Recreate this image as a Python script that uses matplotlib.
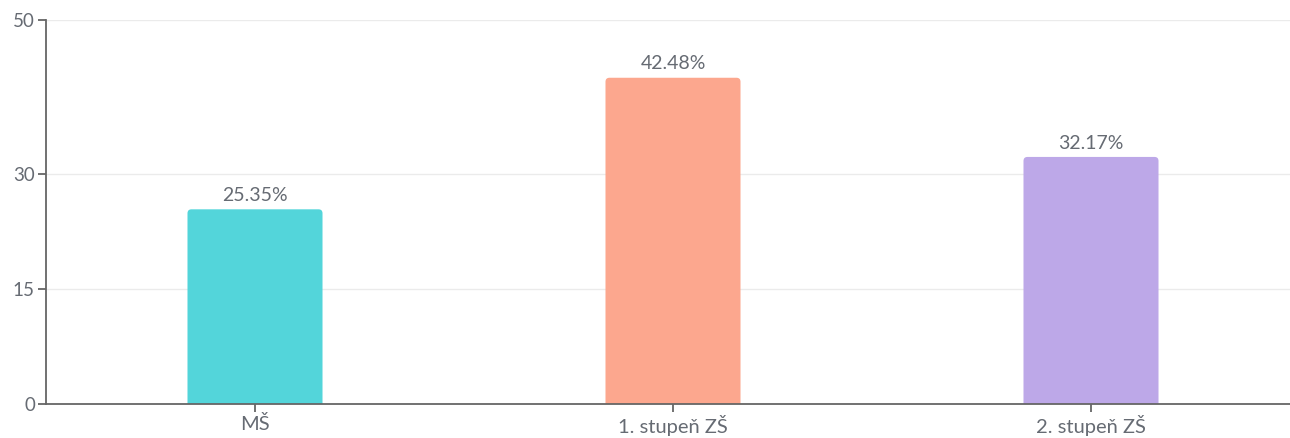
import numpy as np
import matplotlib.pyplot as plt
from matplotlib.patches import FancyBboxPatch

plt.rcParams['font.family'] = ['Lato', 'DejaVu Sans']

categories = ['MŠ', '1. stupeň ZŠ', '2. stupeň ZŠ']
values = [25.35, 42.48, 32.17]
colors = ['#53d5da', '#fca78e', '#bda8e8']
yticks = [0, 15, 30, 50]

fig = plt.figure(figsize=(12.9, 4.38), dpi=100)
ax = fig.add_axes([46/1290, 34/438, 1254/1290, 384/438])

x = np.arange(len(categories))
bars = ax.bar(x, values, width=0.323, color=colors, alpha=0)
ax.set_xlim(-0.5, 2.5)
ax.set_ylim(0, 50)

# rounded tops
px_x = 1254 / 3.0
px_y = 384 / 50.0
r = 4 / px_x
for b, c in zip(bars, colors):
    p = FancyBboxPatch((b.get_x(), -2), b.get_width(), b.get_height() + 2,
                       boxstyle='round,pad=0,rounding_size=%f' % r,
                       mutation_aspect=(4 / px_y) / r,
                       fc=c, ec='none', zorder=2)
    ax.add_patch(p)
    ax.text(b.get_x() + b.get_width() / 2, b.get_height() + 0.7,
            '%.2f%%' % b.get_height(), ha='center', va='bottom',
            fontsize=14, color='#666b73')

ax.set_xticks(x)
ax.set_xticklabels(categories, fontsize=14.5)
ax.set_yticks(yticks)
ax.grid(axis='y', color='#ebebeb', lw=1, zorder=0)
ax.set_axisbelow(True)
for s in ['top', 'right']:
    ax.spines[s].set_visible(False)
for s in ['left', 'bottom']:
    ax.spines[s].set_color('#666666')
    ax.spines[s].set_linewidth(1.3)
    ax.spines[s].set_zorder(3)
ax.tick_params(axis='both', length=6, width=1.3, color='#666666',
               labelcolor='#666b73', labelsize=13.5, pad=2)
ax.tick_params(axis='x', labelsize=14.5)

fig.savefig('out.png', dpi=100)
